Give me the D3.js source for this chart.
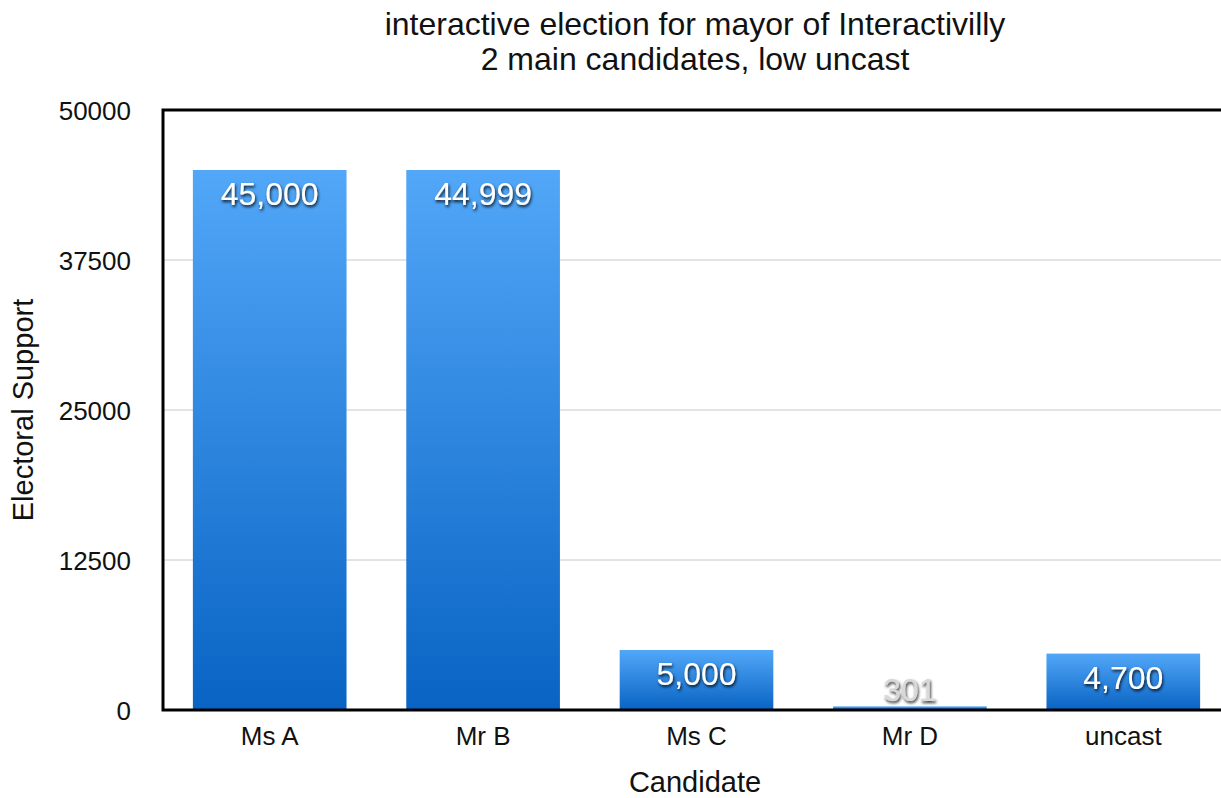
<!DOCTYPE html>
<html>
<head>
<meta charset="utf-8">
<script src="https://cdn.jsdelivr.net/npm/d3@7"></script>
<style>
  body { margin: 0; background: #fff; }
  svg { display: block; font-family: "Liberation Sans", Arial, sans-serif; }
</style>
</head>
<body>
<div id="chart"></div>
<script>
(function () {
	// Data
	const candidates = ["Ms A", "Mr B", "Ms C", "Mr D", "uncast"];
	const votes = [45000, 44999, 5000, 301, 4700];
	const yTicks = [0, 12500, 25000, 37500, 50000];
	const titleLines = ["interactive election for mayor of Interactivilly", "2 main candidates, low uncast"];

	const width = 1221;
	const height = 798;
	const margin = { top: 110, right: -9, bottom: 88, left: 163 };
	const innerW = width - margin.left - margin.right;
	const innerH = height - margin.top - margin.bottom;

	const svg = d3.select("#chart")
		.append("svg")
		.attr("width", width)
		.attr("height", height);

	const defs = svg.append("defs");
	const grad = defs.append("linearGradient")
		.attr("id", "barGrad")
		.attr("x1", 0).attr("y1", 0).attr("x2", 0).attr("y2", 1);
	grad.append("stop").attr("offset", "0%").attr("stop-color", "#52a7f8");
	grad.append("stop").attr("offset", "100%").attr("stop-color", "#0863c3");

	const shadow = defs.append("filter")
		.attr("id", "txtShadow")
		.attr("x", "-20%").attr("y", "-30%").attr("width", "140%").attr("height", "160%");
	shadow.append("feDropShadow")
		.attr("dx", 1).attr("dy", 2).attr("stdDeviation", 1.6)
		.attr("flood-color", "#000").attr("flood-opacity", 0.85);

	// Title
	svg.append("g")
		.selectAll("text")
		.data(titleLines)
		.join("text")
		.attr("x", 695)
		.attr("y", (d, i) => 35 + i * 35)
		.attr("text-anchor", "middle")
		.style("font-size", "32px")
		.style("fill", "#111")
		.text(d => d);

	const g = svg.append("g").attr("transform", `translate(${margin.left},${margin.top})`);

	const x = d3.scaleBand().domain(candidates).range([0, innerW]).paddingInner(0.28).paddingOuter(0.14);
	const y = d3.scaleLinear().domain([0, 50000]).range([innerH, 0]);

	// Gridlines
	g.append("g")
		.selectAll("line")
		.data(yTicks.filter(t => t > 0 && t < 50000))
		.join("line")
		.attr("x1", 0).attr("x2", innerW)
		.attr("y1", d => y(d)).attr("y2", d => y(d))
		.attr("stroke", "#c8c8c8")
		.attr("stroke-width", 1);

	// Bars
	g.append("g")
		.selectAll("rect")
		.data(candidates)
		.join("rect")
		.attr("x", d => x(d))
		.attr("width", x.bandwidth())
		.attr("y", (d, i) => y(votes[i]))
		.attr("height", (d, i) => innerH - y(votes[i]))
		.attr("fill", "url(#barGrad)");

	// Value labels
	const fmt = d3.format(",");
	g.append("g")
		.selectAll("text")
		.data(candidates)
		.join("text")
		.attr("x", d => x(d) + x.bandwidth() / 2)
		.attr("y", (d, i) => Math.min(y(votes[i]) + 35, innerH - 9))
		.attr("text-anchor", "middle")
		.attr("filter", "url(#txtShadow)")
		.style("font-size", "32px")
		.style("fill", (d, i) => innerH - y(votes[i]) > 40 ? "#fff" : "#d8d8d8")
		.text((d, i) => fmt(votes[i]));

	// Y axis
	const yAxis = g.append("g")
		.call(d3.axisLeft(y).tickValues(yTicks).tickSize(0).tickPadding(32).tickFormat(d3.format("d")));
	yAxis.select(".domain").remove();
	yAxis.selectAll("text")
		.style("font-size", "26px")
		.style("font-family", "'Liberation Sans', Arial, sans-serif")
		.style("fill", "#111")
		.attr("dy", "0.35em");

	// X axis
	const xAxis = g.append("g")
		.attr("transform", `translate(0,${innerH})`)
		.call(d3.axisBottom(x).tickSize(0).tickPadding(17));
	xAxis.select(".domain").remove();
	xAxis.selectAll("text")
		.style("font-size", "26px")
		.style("font-family", "'Liberation Sans', Arial, sans-serif")
		.style("fill", "#111");

	// Frame
	g.append("path")
		.attr("d", `M${innerW},0H0V${innerH}H${innerW}`)
		.attr("fill", "none")
		.attr("stroke", "#000")
		.attr("stroke-width", 3);

	// Axis titles
	svg.append("text")
		.attr("x", 695)
		.attr("y", 792)
		.attr("text-anchor", "middle")
		.style("font-size", "29px")
		.style("fill", "#111")
		.text("Candidate");

	svg.append("text")
		.attr("transform", "translate(33,410) rotate(-90)")
		.attr("text-anchor", "middle")
		.style("font-size", "29px")
		.style("fill", "#111")
		.text("Electoral Support");
})();
</script>
</body>
</html>
